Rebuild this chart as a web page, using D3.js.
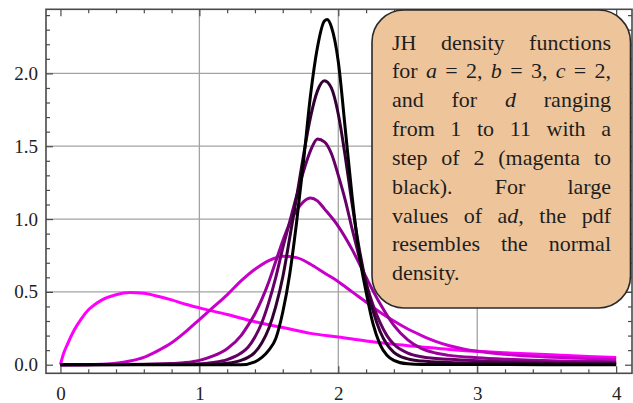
<!DOCTYPE html>
<html>
<head>
<meta charset="utf-8">
<script src="https://cdn.jsdelivr.net/npm/d3@7"></script>
<style>
  body { margin: 0; background: #fff; }
  svg { display: block; }
</style>
</head>
<body>
<svg id="chart" width="633" height="403"></svg>
<script>
// values, one x/y pair of arrays per curve (d = 1 ... 11)
var dValues = [1, 3, 5, 7, 9, 11];

var xD1 = [0, 0.02, 0.05, 0.1, 0.15, 0.2, 0.25, 0.3, 0.4, 0.5, 0.6, 0.7, 0.8, 0.9, 1.0, 1.2, 1.4, 1.6, 1.8, 2.0, 2.2, 2.4, 2.6, 2.8, 3.0, 3.2, 3.4, 3.6, 3.8, 4.0];
var yD1 = [0, 0.07, 0.14, 0.24, 0.315, 0.375, 0.415, 0.445, 0.48, 0.495, 0.49, 0.47, 0.445, 0.415, 0.39, 0.345, 0.295, 0.255, 0.215, 0.19, 0.163, 0.14, 0.122, 0.105, 0.092, 0.082, 0.073, 0.065, 0.057, 0.05];

var xD3 = [0, 0.2, 0.3, 0.4, 0.5, 0.6, 0.7, 0.8, 0.9, 1.0, 1.1, 1.2, 1.3, 1.4, 1.5, 1.6, 1.7, 1.8, 1.9, 2.0, 2.1, 2.2, 2.3, 2.4, 2.5, 2.6, 2.7, 2.8, 2.9, 3.0, 3.2, 3.4, 3.6, 3.8, 4.0];
var yD3 = [0, 0, 0.003, 0.01, 0.025, 0.05, 0.095, 0.15, 0.225, 0.31, 0.395, 0.48, 0.575, 0.655, 0.715, 0.745, 0.735, 0.69, 0.63, 0.57, 0.5, 0.43, 0.36, 0.3, 0.245, 0.2, 0.16, 0.13, 0.108, 0.092, 0.072, 0.058, 0.049, 0.043, 0.038];

var xD5 = [0, 0.6, 0.8, 0.9, 1.0, 1.1, 1.2, 1.3, 1.35, 1.4, 1.45, 1.5, 1.55, 1.6, 1.65, 1.7, 1.75, 1.8, 1.85, 1.9, 2.0, 2.1, 2.2, 2.3, 2.4, 2.5, 2.6, 2.7, 2.8, 3.0, 3.2, 3.4, 3.6, 3.8, 4.0];
var yD5 = [0, 0.002, 0.008, 0.015, 0.03, 0.06, 0.11, 0.2, 0.27, 0.35, 0.45, 0.57, 0.71, 0.85, 0.97, 1.06, 1.12, 1.145, 1.125, 1.07, 0.95, 0.79, 0.6, 0.42, 0.27, 0.17, 0.11, 0.08, 0.064, 0.048, 0.038, 0.031, 0.026, 0.023, 0.021];

var xD7 = [0, 1.0, 1.1, 1.2, 1.3, 1.35, 1.4, 1.45, 1.5, 1.55, 1.6, 1.65, 1.7, 1.75, 1.8, 1.85, 1.9, 1.95, 2.0, 2.05, 2.1, 2.15, 2.2, 2.25, 2.3, 2.35, 2.4, 2.5, 2.6, 2.8, 3.0, 3.2, 3.5, 4.0];
var yD7 = [0, 0.005, 0.015, 0.035, 0.08, 0.12, 0.19, 0.29, 0.43, 0.6, 0.8, 0.98, 1.16, 1.33, 1.47, 1.55, 1.53, 1.45, 1.3, 1.13, 0.93, 0.74, 0.56, 0.41, 0.29, 0.2, 0.14, 0.08, 0.055, 0.037, 0.027, 0.021, 0.016, 0.011];

var xD9 = [0, 1.1, 1.2, 1.3, 1.35, 1.4, 1.45, 1.5, 1.55, 1.6, 1.65, 1.7, 1.75, 1.8, 1.85, 1.9, 1.95, 2.0, 2.05, 2.1, 2.15, 2.2, 2.25, 2.3, 2.35, 2.4, 2.5, 2.6, 2.8, 3.0, 3.5, 4.0];
var yD9 = [0, 0.003, 0.01, 0.03, 0.05, 0.085, 0.15, 0.25, 0.4, 0.6, 0.87, 1.15, 1.44, 1.7, 1.88, 1.95, 1.9, 1.72, 1.43, 1.1, 0.8, 0.56, 0.37, 0.23, 0.14, 0.085, 0.04, 0.025, 0.016, 0.012, 0.008, 0.005];

var xD11 = [0, 1.3, 1.4, 1.45, 1.5, 1.55, 1.6, 1.65, 1.7, 1.75, 1.8, 1.85, 1.9, 1.92, 1.95, 2.0, 2.05, 2.1, 2.15, 2.2, 2.25, 2.3, 2.35, 2.4, 2.5, 2.6, 3.0, 4.0];
var yD11 = [0, 0, 0.02, 0.05, 0.1, 0.18, 0.36, 0.62, 0.98, 1.4, 1.85, 2.18, 2.36, 2.37, 2.32, 2.08, 1.62, 1.15, 0.76, 0.5, 0.28, 0.14, 0.065, 0.03, 0.006, 0.002, 0.001, 0];

var xTicksMajor = [0, 1, 2, 3, 4];
var xTicksMinor = [0.2, 0.4, 0.6, 0.8, 1.2, 1.4, 1.6, 1.8, 2.2, 2.4, 2.6, 2.8, 3.2, 3.4, 3.6, 3.8];
var yTicksMajor = [0, 0.5, 1.0, 1.5, 2.0];
var yTicksMinor = [0.1, 0.2, 0.3, 0.4, 0.6, 0.7, 0.8, 0.9, 1.1, 1.2, 1.3, 1.4, 1.6, 1.7, 1.8, 1.9, 2.1, 2.2, 2.3, 2.4];
var xGrid = [1, 2, 3];
var yGrid = [0.5, 1.0, 1.5, 2.0];

// caption text, *...* = italic
var boxLines = [
  "JH density functions",
  "for *a* = 2, *b* = 3, *c* = 2,",
  "and for *d* ranging",
  "from 1 to 11 with a",
  "step of 2 (magenta to",
  "black). For large",
  "values of a*d*, the pdf",
  "resembles the normal",
  "density."
];

// magenta -> black
var curveColors = ["#ff00ff", "#cc00cc", "#990099", "#660066", "#330033", "#000000"];

var xs = [xD1, xD3, xD5, xD7, xD9, xD11];
var ys = [yD1, yD3, yD5, yD7, yD9, yD11];
var series = dValues.map(function(d, i) {
  return { d: d, points: xs[i].map(function(v, j) { return [v, ys[i][j]]; }) };
});

// set up canvas
var svg = d3.select("#chart");
var plotLeft = 46, plotTop = 9.3, plotRight = 632, plotBottom = 373.3;

var x = d3.scaleLinear().domain([-0.104, 4.114]).range([plotLeft, plotRight]);
var y = d3.scaleLinear().domain([-0.059, 2.44]).range([plotBottom, plotTop]);

var frameColor = "#4a4a4a";

// gridlines
svg.append("g").selectAll("line")
  .data(xGrid)
  .join("line")
  .attr("x1", function(d) { return x(d); })
  .attr("x2", function(d) { return x(d); })
  .attr("y1", plotTop)
  .attr("y2", plotBottom)
  .attr("stroke", "#a3a3a3")
  .attr("stroke-width", 1.3);

svg.append("g").selectAll("line")
  .data(yGrid)
  .join("line")
  .attr("x1", plotLeft)
  .attr("x2", plotRight)
  .attr("y1", function(d) { return y(d); })
  .attr("y2", function(d) { return y(d); })
  .attr("stroke", "#a3a3a3")
  .attr("stroke-width", 1.3);

// ticks on all four sides, pointing inwards
function styleAxis(g) {
  g.select(".domain").remove();
  g.selectAll(".tick line").attr("stroke", frameColor).attr("stroke-width", 1.2);
  g.selectAll("text")
    .attr("fill", "#222")
    .style("font-family", "'Liberation Serif', 'Times New Roman', serif")
    .style("font-size", "19px");
}

svg.append("g")
  .attr("transform", "translate(0," + plotBottom + ")")
  .call(d3.axisBottom(x).tickValues(xTicksMajor).tickSize(-7).tickPadding(13).tickFormat(d3.format("d")))
  .call(styleAxis);
svg.append("g")
  .attr("transform", "translate(0," + plotBottom + ")")
  .call(d3.axisBottom(x).tickValues(xTicksMinor).tickSize(-4).tickFormat(""))
  .call(styleAxis);
svg.append("g")
  .attr("transform", "translate(0," + plotTop + ")")
  .call(d3.axisTop(x).tickValues(xTicksMajor).tickSize(-7).tickFormat(""))
  .call(styleAxis);
svg.append("g")
  .attr("transform", "translate(0," + plotTop + ")")
  .call(d3.axisTop(x).tickValues(xTicksMinor).tickSize(-4).tickFormat(""))
  .call(styleAxis);

svg.append("g")
  .attr("transform", "translate(" + plotLeft + ",0)")
  .call(d3.axisLeft(y).tickValues(yTicksMajor).tickSize(-7).tickPadding(8).tickFormat(d3.format(".1f")))
  .call(styleAxis);
svg.append("g")
  .attr("transform", "translate(" + plotLeft + ",0)")
  .call(d3.axisLeft(y).tickValues(yTicksMinor).tickSize(-4).tickFormat(""))
  .call(styleAxis);
svg.append("g")
  .attr("transform", "translate(" + plotRight + ",0)")
  .call(d3.axisRight(y).tickValues(yTicksMajor).tickSize(-7).tickFormat(""))
  .call(styleAxis);
svg.append("g")
  .attr("transform", "translate(" + plotRight + ",0)")
  .call(d3.axisRight(y).tickValues(yTicksMinor).tickSize(-4).tickFormat(""))
  .call(styleAxis);

// curves
var line = d3.line()
  .x(function(p) { return x(p[0]); })
  .y(function(p) { return y(p[1]); })
  .curve(d3.curveMonotoneX);

svg.append("g").selectAll("path")
  .data(series)
  .join("path")
  .attr("d", function(s) { return line(s.points); })
  .attr("fill", "none")
  .attr("stroke", function(s, i) { return curveColors[i]; })
  .attr("stroke-width", 3)
  .attr("stroke-linejoin", "round");

// frame
svg.append("rect")
  .attr("x", plotLeft)
  .attr("y", plotTop)
  .attr("width", plotRight - plotLeft)
  .attr("height", plotBottom - plotTop)
  .attr("fill", "none")
  .attr("stroke", frameColor)
  .attr("stroke-width", 1.6);

// caption box
var box = svg.append("g");
box.append("rect")
  .attr("x", 372)
  .attr("y", 10)
  .attr("width", 258.5)
  .attr("height", 298)
  .attr("rx", 32)
  .attr("fill", "#eec59b")
  .attr("stroke", "#2a2a2a")
  .attr("stroke-width", 1.6);

var textLeft = 392, textWidth = 219, firstBase = 49.5, lineH = 28.85;

boxLines.forEach(function(lineText, i) {
  var words = lineText.split(" ");
  var nodes = words.map(function(w) {
    var t = box.append("text")
      .attr("y", firstBase + i * lineH)
      .attr("fill", "#1e1e1e")
      .style("font-family", "'Liberation Serif', 'Times New Roman', serif")
      .style("font-size", "22px");
    w.split("*").forEach(function(seg, k) {
      if (seg) t.append("tspan").text(seg).style("font-style", k % 2 ? "italic" : "normal");
    });
    return t;
  });
  var widths = nodes.map(function(n) { return n.node().getComputedTextLength(); });
  // justified, except the last line
  var gap = (i === boxLines.length - 1 || words.length < 2) ? 5.5
    : (textWidth - d3.sum(widths)) / (words.length - 1);
  var cx = textLeft;
  nodes.forEach(function(n, j) {
    n.attr("x", cx);
    cx += widths[j] + gap;
  });
});
</script>
</body>
</html>
